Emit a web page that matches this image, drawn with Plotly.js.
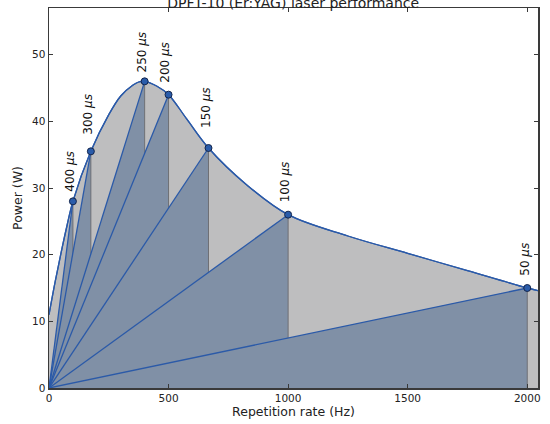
<!DOCTYPE html>
<html>
<head>
<meta charset="utf-8">
<script src="https://cdn.plot.ly/plotly-3.0.1.min.js"></script>
<style>html,body{margin:0;padding:0;background:#fff}#chart{width:550px;height:424px}</style>
</head>
<body>
<div id="chart"></div>
<script>
// Performance envelope (repetition rate in Hz, average power in W)
const curveRate  = [0, 25, 50, 75, 100, 175, 250, 300, 350, 375, 400, 450, 500, 575, 667, 826, 1000, 1250, 1500, 1750, 2000, 2045];
const curvePower = [11, 15.8, 20.2, 24.3, 28, 35.5, 41, 43.8, 45.4, 45.9, 46, 45.3, 44, 40.4, 36, 30.5, 26, 22.8, 20.2, 17.6, 15, 14.6];

// Operating points per pulse duration
const pulseLabels = ["400", "300", "250", "200", "150", "100", "50"];   // µs
const pointRate   = [100, 175, 400, 500, 667, 1000, 2000];                // Hz
const pointPower  = [28, 35.5, 46, 44, 36, 26, 15];                      // W

// Axis ticks
const xTicks = [0, 500, 1000, 1500, 2000];
const yTicks = [0, 10, 20, 30, 40, 50];

// label gap above each point (px) – placement style only
const labelGap = [8, 15, 7, 10, 18, 10, 10];

const GRAY_FILL = '#bebebf';
const TRI_FILL = '#8090a6';
const BLUE = '#2b5aa8';
const VGRAY = '#6f7075';

const traces = [];
// envelope fill
traces.push({
  x: curveRate, y: curvePower, type: 'scatter', mode: 'lines',
  line: {color: BLUE, width: 1.3, shape: 'spline', smoothing: 1.0},
  fill: 'tozeroy', fillcolor: GRAY_FILL, hoverinfo: 'skip', showlegend: false
});
// triangles (opaque, in order) with grey vertical edge
pointRate.forEach((r, i) => {
  traces.push({
    x: [0, r, r, 0], y: [0, pointPower[i], 0, 0], type: 'scatter', mode: 'lines',
    fill: 'toself', fillcolor: TRI_FILL, line: {width: 0, color: TRI_FILL},
    hoverinfo: 'skip', showlegend: false
  });
  traces.push({
    x: [r, r], y: [0, pointPower[i]], type: 'scatter', mode: 'lines',
    line: {color: VGRAY, width: 1}, hoverinfo: 'skip', showlegend: false
  });
});
// blue rays from the origin
pointRate.forEach((r, i) => {
  traces.push({
    x: [0, r], y: [0, pointPower[i]], type: 'scatter', mode: 'lines',
    line: {color: BLUE, width: 1.3}, hoverinfo: 'skip', showlegend: false
  });
});
// envelope line on top
traces.push({
  x: curveRate, y: curvePower, type: 'scatter', mode: 'lines',
  line: {color: BLUE, width: 1.3, shape: 'spline', smoothing: 1.0},
  hoverinfo: 'skip', showlegend: false
});
// markers
traces.push({
  x: pointRate, y: pointPower, type: 'scatter', mode: 'markers',
  marker: {color: '#2a5caa', size: 7, line: {color: '#14264d', width: 1}},
  hoverinfo: 'skip', showlegend: false
});

const annotations = pulseLabels.map((t, i) => ({
  x: pointRate[i], y: pointPower[i], xref: 'x', yref: 'y',
  text: t + ' <i>μs</i>', showarrow: false, textangle: -90,
  xanchor: 'center', yanchor: 'bottom', yshift: labelGap[i], xshift: -3,
  font: {family: 'DejaVu Sans', size: 12, color: '#111'}
}));

const axisCommon = {
  showgrid: false, zeroline: false, showline: true, linecolor: '#3a3a3a', linewidth: 1.5,
  mirror: 'ticks', ticks: 'inside', ticklen: 4, tickwidth: 1, tickcolor: '#3a3a3a',
  tickfont: {family: 'DejaVu Sans', size: 10.5, color: '#222'}
};

const layout = {
  width: 550, height: 424,
  margin: {l: 49, r: 12, t: 8, b: 36},
  paper_bgcolor: '#fff', plot_bgcolor: '#fff',
  title: {text: 'DPFT-10 (Er:YAG) laser performance', x: 0.533, xref: 'container',
          y: 0.993, yref: 'container', yanchor: 'middle',
          font: {family: 'DejaVu Sans', size: 14, color: '#222'}},
  xaxis: Object.assign({}, axisCommon, {
    range: [0, 2045], tickvals: xTicks, ticktext: xTicks.map(String),
    title: {text: 'Repetition rate (Hz)', standoff: 2, font: {family: 'DejaVu Sans', size: 12.5, color: '#222'}}
  }),
  yaxis: Object.assign({}, axisCommon, {
    range: [0, 57], tickvals: yTicks, ticktext: yTicks.map(String),
    title: {text: 'Power (W)', standoff: 6, font: {family: 'DejaVu Sans', size: 12.5, color: '#222'}}
  }),
  annotations: annotations,
  showlegend: false
};

Plotly.newPlot('chart', traces, layout, {displayModeBar: false, staticPlot: true});
</script>
</body>
</html>
